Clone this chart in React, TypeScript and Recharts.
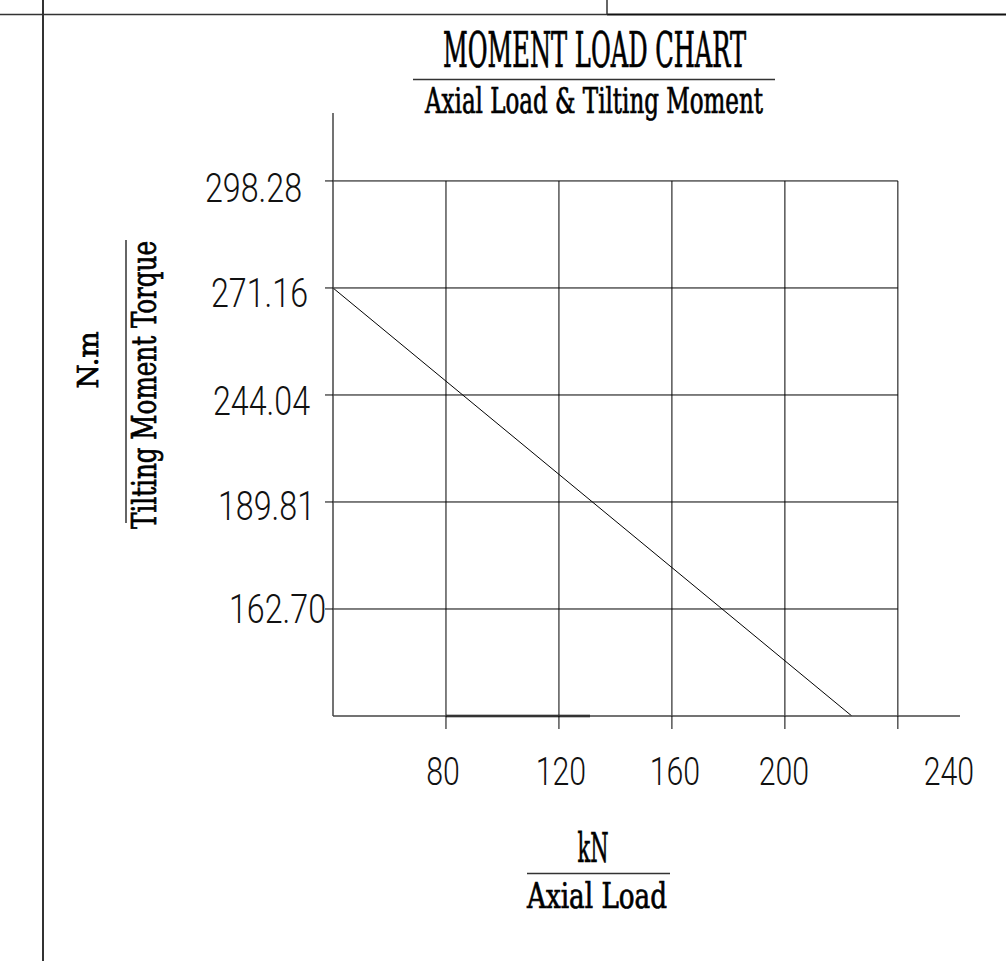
import { LineChart, Line, XAxis, YAxis, ReferenceLine } from "recharts";

// axial load (kN) grid positions
const axialLoadTicks = [80, 120, 160, 200, 240];
// tilting moment rows, bottom to top, and the values printed on them
const torqueLevels = [1, 2, 3, 4, 5];
const torqueLabels = ["162.70", "189.81", "244.04", "271.16", "298.28"];
// moment limit line: starts on the axis at 271.16 and runs down to the load axis
const momentLine = [
  { load: 40, level: 4 },
  { load: 223.7, level: 0 },
];

const SERIF = "'DejaVu Serif Condensed', 'DejaVu Serif', serif";
const SANS = "Roboto, 'Liberation Sans', Arial, sans-serif";

// hand-drawn label offsets (CAD drawing isn't aligned evenly)
const Y_NUDGE: Record<string, [number, number]> = {
  "298.28": [-23, 21],
  "271.16": [-17, 19],
  "244.04": [-15, 20],
  "189.81": [-10, 18],
  "162.70": [1, 14],
};
const X_NUDGE: Record<number, number> = { 80: -3, 120: 2, 160: 3, 200: -1, 240: 51 };

function YTick(props: any) {
  const { y, payload } = props;
  const label = torqueLabels[payload.value - 1];
  if (!label) return null;
  const [dx, dy] = Y_NUDGE[label] ?? [0, 18];
  return (
    <text x={325 + dx} y={y + dy} textAnchor="end" fontFamily={SANS} fontWeight={300} fontSize={41} fill="#111"
      textLength={97} lengthAdjust="spacingAndGlyphs">
      {label}
    </text>
  );
}

function XTick(props: any) {
  const { x, payload } = props;
  const label = String(payload.value);
  return (
    <text x={x + (X_NUDGE[payload.value] ?? 0)} y={785} textAnchor="middle" fontFamily={SANS} fontWeight={300} fontSize={38}
      fill="#111" textLength={label.length * 16.8} lengthAdjust="spacingAndGlyphs">
      {label}
    </text>
  );
}

const titleStroke = { stroke: "#000", strokeWidth: 0.7 };

export default function App() {
  return (
    <div style={{ position: "absolute", left: 0, top: 0, width: 1006, height: 961, background: "#fff" }}>
      <LineChart width={1006} height={961} data={momentLine}
        margin={{ top: 113, right: 46, bottom: 244, left: 332 }}>
        {/* drawing frame */}
        <line x1={43} y1={0} x2={43} y2={961} stroke="#333" strokeWidth={2} />
        <line x1={0} y1={14.5} x2={607} y2={14.5} stroke="#333" strokeWidth={1.5} />
        <line x1={607} y1={14.5} x2={1006} y2={14.5} stroke="#111" strokeWidth={2} />
        <line x1={607} y1={0} x2={607} y2={14.5} stroke="#333" strokeWidth={1.5} />

        {/* titles */}
        <text x={443} y={67} fontFamily={SERIF} fontSize={48} fill="#000" {...titleStroke} textLength={303} lengthAdjust="spacingAndGlyphs">
          MOMENT LOAD CHART
        </text>
        <line x1={413} y1={79.5} x2={775} y2={79.5} stroke="#333" strokeWidth={1.5} />
        <text x={425} y={113} fontFamily={SERIF} fontSize={35} fill="#000" {...titleStroke} textLength={338} lengthAdjust="spacingAndGlyphs">
          Axial Load &amp; Tilting Moment
        </text>

        {/* x axis title */}
        <text x={593} y={862} textAnchor="middle" fontFamily={SERIF} fontSize={41} fill="#000" {...titleStroke} textLength={31} lengthAdjust="spacingAndGlyphs">
          kN
        </text>
        <line x1={527} y1={873.5} x2={670} y2={873.5} stroke="#333" strokeWidth={1.5} />
        <text x={597} y={908} textAnchor="middle" fontFamily={SERIF} fontSize={36} fill="#000" {...titleStroke} textLength={140} lengthAdjust="spacingAndGlyphs">
          Axial Load
        </text>

        {/* y axis title */}
        <text x={98} y={360} textAnchor="middle" transform="rotate(-90 98 360)" fontFamily={SERIF} fontSize={28}
          fill="#000" {...titleStroke} textLength={57} lengthAdjust="spacingAndGlyphs">
          N.m
        </text>
        <line x1={126} y1={240} x2={126} y2={523} stroke="#333" strokeWidth={1.5} />
        <text x={156} y={385} textAnchor="middle" transform="rotate(-90 156 385)" fontFamily={SERIF} fontSize={33}
          fill="#000" {...titleStroke} textLength={288} lengthAdjust="spacingAndGlyphs">
          Tilting Moment Torque
        </text>

        <XAxis type="number" dataKey="load" domain={[40, 262]} ticks={axialLoadTicks} height={1}
          axisLine={{ stroke: "#444", strokeWidth: 1.5 }} tickLine={{ stroke: "#000" }} tickSize={13} tickMargin={0}
          tick={<XTick />} interval={0} allowDataOverflow />
        <YAxis type="number" dataKey="level" domain={[0, 5.635]} ticks={torqueLevels} width={1}
          axisLine={{ stroke: "#444", strokeWidth: 1.5 }} tickLine={{ stroke: "#000" }} tickSize={8} tickMargin={0}
          tick={<YTick />} interval={0} allowDataOverflow />

        {torqueLevels.map((lv) => (
          <ReferenceLine key={"h" + lv} segment={[{ x: 40, y: lv }, { x: 240, y: lv }]} stroke="#000" strokeWidth={1} ifOverflow="visible" />
        ))}
        {axialLoadTicks.map((t) => (
          <ReferenceLine key={"v" + t} segment={[{ x: t, y: 0 }, { x: t, y: 5 }]} stroke="#000" strokeWidth={1} ifOverflow="visible" />
        ))}
        <ReferenceLine segment={[{ x: 80, y: 0 }, { x: 131, y: 0 }]} stroke="#000" strokeWidth={2.5} ifOverflow="visible" />

        <Line type="linear" dataKey="level" stroke="#000" strokeWidth={1} dot={false} isAnimationActive={false} />
      </LineChart>
    </div>
  );
}
